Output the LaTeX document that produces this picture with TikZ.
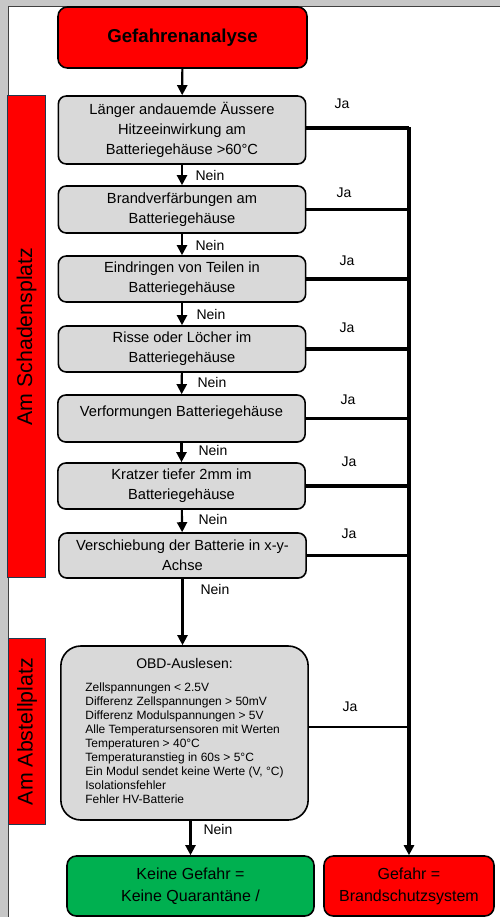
\documentclass[tikz,border=0pt]{standalone}
\usepackage{fontspec}
\setmainfont{Liberation Sans}
\usetikzlibrary{arrows.meta,positioning}
\definecolor{boxgrey}{HTML}{D9D9D9}
\definecolor{alarmred}{HTML}{FF0000}
\definecolor{okgreen}{HTML}{00B050}
\definecolor{barline}{HTML}{1F3A4F}
\tikzset{
  check/.style={draw, line width=1.2pt, rounded corners=6pt, fill=boxgrey, align=center,
    inner sep=2pt, minimum width=185.5pt, font=\fontsize{11}{15}\selectfont},
  header/.style={draw, line width=1.2pt, rounded corners=7pt, fill=alarmred, align=center,
    minimum width=186.75pt, minimum height=45.75pt, font=\fontsize{14}{17}\selectfont\bfseries},
  result/.style={draw, line width=1.2pt, rounded corners=7pt, align=center,
    minimum height=45pt, font=\fontsize{12}{16.5}\selectfont},
  sidebar/.style={draw=barline, line width=0.7pt, fill=alarmred, rotate=90,
    minimum height=28pt, font=\fontsize{16}{19}\selectfont},
  nein/.style={-{Triangle[length=7.5pt,width=7.5pt]}, line width=1.6pt},
  ja/.style={line width=2.5pt},
  tag/.style={font=\fontsize{10.5}{12}\selectfont, inner sep=0pt}
}
\begin{document}
\begin{tikzpicture}[x=0.75pt, y=-0.75pt]
  % Page frame
  \useasboundingbox (0,0) rectangle (500,917);
  \fill[black!22] (0,0) rectangle (500,917);
  \fill[white] (8,6) rectangle (500,917);
  \draw[black!75, line width=0.6pt] (8,917) -- (8,6) -- (500,6);
  % Side bars
  \node[sidebar, minimum width=362pt] (schaden) at (26.5,336.5) {Am Schadensplatz};
  \node[sidebar, minimum width=140pt] (abstell) at (27,731.5) {Am Abstellplatz};
  % Boxes
  \node[header] (start) at (182.5,37.5) {Gefahrenanalyse};
  \node[check, minimum height=51pt] (hitze) at (182,130)
    {Länger andauemde Äussere\\Hitzeeinwirkung am\\Batteriegehäuse >60°C};
  \node[check, minimum height=35.25pt] (brandv) at (182,209.5)
    {Brandverfärbungen am\\Batteriegehäuse};
  \node[check, minimum height=34.5pt] (teile) at (182,279)
    {Eindringen von Teilen in\\Batteriegehäuse};
  \node[check, minimum height=34.5pt] (risse) at (182,349)
    {Risse oder Löcher im\\Batteriegehäuse};
  \node[check, minimum height=35.25pt] (verform) at (181.5,418.5)
    {Verformungen Batteriegehäuse\\[-4pt]\mbox{}};
  \node[check, minimum height=34.5pt] (kratzer) at (181.5,486)
    {Kratzer tiefer 2mm im\\Batteriegehäuse};
  \node[check, minimum height=33.75pt] (schieb) at (182.5,555.5)
    {Verschiebung der Batterie in x-y-\\Achse};
  \node[check, rounded corners=15pt, minimum height=130.5pt] (obd) at (184.5,733)
    {\fontsize{10.5}{12}\selectfont OBD-Auslesen:\\[8.5pt]
     \fontsize{9}{10.5}\selectfont
     \begin{tabular}{@{}l@{}}
     Zellspannungen < 2.5V\\
     Differenz Zellspannungen > 50mV\\
     Differenz Modulspannungen > 5V\\
     Alle Temperatursensoren mit Werten\\
     Temperaturen > 40°C\\
     Temperaturanstieg in 60s > 5°C\\
     Ein Modul sendet keine Werte (V, °C)\\
     Isolationsfehler\\
     Fehler HV-Batterie
     \end{tabular}};
  \node[result, fill=okgreen, minimum width=185.25pt] (keine) at (190.5,886)
    {Keine Gefahr =\\Keine Quarantäne /};
  \node[result, fill=alarmred, minimum width=127.5pt] (brand) at (409,886)
    {Gefahr =\\Brandschutzsystem};
  % Nein path
  \draw[nein] (start) -- (hitze);
  \draw[nein] (hitze) -- (brandv);
  \draw[nein] (brandv) -- (teile);
  \draw[nein] (teile) -- (risse);
  \draw[nein] (risse) -- (verform);
  \draw[nein] (verform) -- (kratzer);
  \draw[nein] (kratzer) -- (schieb);
  \draw[nein] (schieb.south) -- (schieb.south |- obd.north);
  \draw[nein] (obd.south -| keine.north) -- (keine.north);
  % Ja path
  \draw[ja, line width=3pt] (hitze.east) ++(0,-2) -- ++(103,0);
  \draw[ja, line width=2.3pt, -{Triangle[length=7.5pt,width=7.5pt]}] (hitze.east -| brand.north) ++(0,-3) -- (brand.north);
  \draw[ja] (brandv.east) -- (brandv.east -| brand.north);
  \draw[ja, line width=3pt] (teile.east) -- (teile.east -| brand.north);
  \draw[ja] (risse.east) -- (risse.east -| brand.north);
  \draw[ja] (verform.east) -- (verform.east -| brand.north);
  \draw[ja] (kratzer.east) -- (kratzer.east -| brand.north);
  \draw[ja] (schieb.east) -- (schieb.east -| brand.north);
  \draw[ja, line width=2pt] (obd.east) ++(0,-6) -- ++(101,0);
  % Labels
  \node[tag] (n1) at (210,175) {Nein};
  \node[tag] (n2) at (210,245) {Nein};
  \node[tag] (n3) at (211,314.5) {Nein};
  \node[tag] (n4) at (212,382) {Nein};
  \node[tag] (n5) at (213,450) {Nein};
  \node[tag] (n6) at (213,519) {Nein};
  \node[tag] (n7) at (215,589) {Nein};
  \node[tag] (n8) at (218,829) {Nein};
  \node[tag] (j1) at (342,104) {Ja};
  \node[tag] (j2) at (344,193) {Ja};
  \node[tag] (j3) at (347,261) {Ja};
  \node[tag] (j4) at (347,328) {Ja};
  \node[tag] (j5) at (348,400) {Ja};
  \node[tag] (j6) at (349,462) {Ja};
  \node[tag] (j7) at (349,534) {Ja};
  \node[tag] (j8) at (350,707) {Ja};
\end{tikzpicture}
\end{document}
